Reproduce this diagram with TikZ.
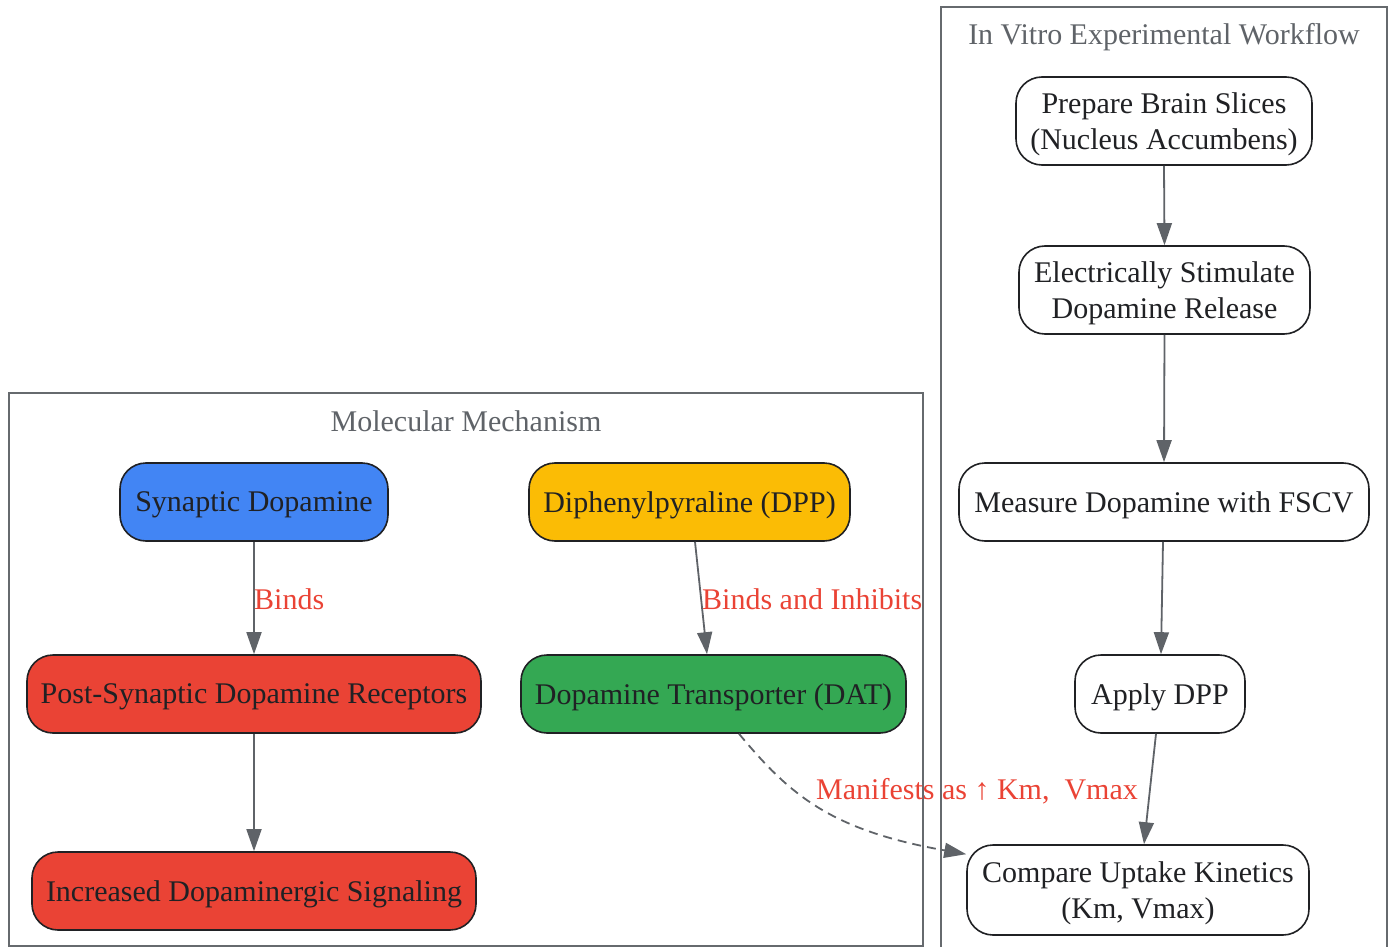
\documentclass[tikz,border=0pt]{standalone}
\usepackage{fontspec}
\setmainfont{Liberation Serif}
\usetikzlibrary{arrows.meta,calc}
\definecolor{edgegray}{HTML}{5F6368}
\definecolor{clustergray}{HTML}{666A6E}
\definecolor{titlegray}{HTML}{5F6368}
\definecolor{txt}{HTML}{202124}
\definecolor{lblred}{HTML}{EA4335}
\definecolor{gblue}{HTML}{4285F4}
\definecolor{gyellow}{HTML}{FBBC05}
\definecolor{gred}{HTML}{EA4335}
\definecolor{ggreen}{HTML}{34A853}
\tikzset{
  box/.style={draw=txt, line width=1.6pt, rounded corners=26pt, inner sep=0pt,
    text=txt, align=center, text depth=0pt, font=\fontsize{30}{36}\selectfont},
  cluster/.style={draw=clustergray, line width=1.8pt, inner sep=0pt},
  ctitle/.style={text=titlegray, font=\fontsize{30}{36}\selectfont, inner sep=0pt},
  flow/.style={draw=edgegray, line width=1.8pt, -{Triangle[length=22pt,width=15pt]}},
  elabel/.style={text=lblred, font=\fontsize{30}{36}\selectfont, inner sep=0pt}
}
\begin{document}
\begin{tikzpicture}[x=1pt,y=-1pt]
\useasboundingbox (0,0) rectangle (1393,947);
% clusters
\node[cluster, minimum width=914pt, minimum height=553pt] (mech) at (466,669.5) {};
\node[cluster, minimum width=446pt, minimum height=960pt] (work) at (1164,487) {};
\node[ctitle] (mechT) at (466,421) {Molecular Mechanism};
\node[ctitle] (workT) at (1164,37) {In Vitro Experimental Workflow};
% molecular nodes
\node[box, fill=gblue, minimum width=268pt, minimum height=78pt] (sd) at (254,502) {Synaptic Dopamine};
\node[box, fill=gyellow, minimum width=321pt, minimum height=78pt] (dpp) at (689.5,502) {Diphenylpyraline (DPP)};
\node[box, fill=gred, minimum width=454pt, minimum height=78pt] (psdr) at (254,694) {Post-Synaptic Dopamine Receptors};
\node[box, fill=ggreen, minimum width=385pt, minimum height=78pt] (dat) at (713.5,694) {Dopamine Transporter (DAT)};
\node[box, fill=gred, minimum width=444pt, minimum height=78pt] (ids) at (254,891) {Increased Dopaminergic Signaling};
% workflow nodes
\node[box, fill=white, minimum width=296pt, minimum height=88pt] (prep) at (1164,121) {Prepare Brain Slices\\(Nucleus Accumbens)};
\node[box, fill=white, minimum width=291pt, minimum height=88pt] (stim) at (1164.5,290) {Electrically Stimulate\\Dopamine Release};
\node[box, fill=white, minimum width=410pt, minimum height=78pt] (fscv) at (1164,502) {Measure Dopamine with FSCV};
\node[box, fill=white, minimum width=170pt, minimum height=78pt] (apply) at (1160,694) {Apply DPP};
\node[box, fill=white, minimum width=342pt, minimum height=90pt] (cmp) at (1138,890) {Compare Uptake Kinetics\\(Km, Vmax)};
% edges
\draw[flow] (sd.south) -- (psdr.north);
\node[elabel, anchor=west] (lb1) at (254,599) {Binds};
\draw[flow] ($(dpp.south)+(5.5,0)$) -- ($(dat.north)+(-6.5,0)$);
\node[elabel, anchor=west] (lb2) at (702,599) {Binds and Inhibits};
\draw[flow] (psdr.south) -- (ids.north);
\draw[flow, dashed, dash pattern=on 9pt off 6pt]
  ($(dat.south)+(25.5,0)$) .. controls (790,795) and (830,830) .. ($(cmp.north west)+(0,10)$);
\node[elabel] (lb3) at (977,791) {Manifests as ↑ Km,\ \ Vmax};
\draw[flow] (prep.south) -- (stim.north);
\draw[flow] (stim.south) -- (fscv.north);
\draw[flow] ($(fscv.south)+(-1,0)$) -- ($(apply.north)+(1,0)$);
\draw[flow] ($(apply.south)+(-4,0)$) -- ($(cmp.north)+(6,0)$);
\end{tikzpicture}
\end{document}
